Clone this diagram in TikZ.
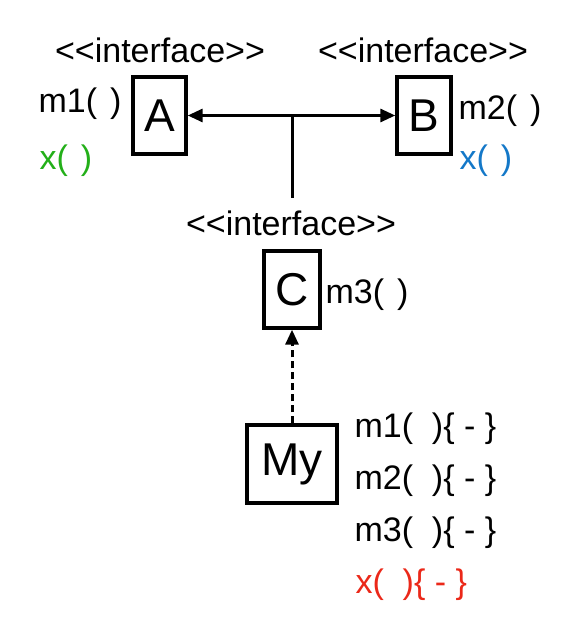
\documentclass[tikz,border=0pt]{standalone}
\usepackage{fontspec}
\setmainfont{Liberation Sans}
\usetikzlibrary{arrows.meta, positioning}

\definecolor{xgreen}{RGB}{35,175,25}
\definecolor{xblue}{RGB}{20,120,200}
\definecolor{xred}{RGB}{235,40,25}

\newcommand{\stereotext}{<\kern0pt<interface>\kern0pt>}
\newcommand{\argsgap}{\hspace{0.38em}}

\begin{document}
\begin{tikzpicture}[x=1pt, y=-1pt,
    classbox/.style={draw, line width=3.4pt, inner sep=0pt, font=\fontsize{46}{50}\selectfont},
    stereo/.style={anchor=base, font=\fontsize{34}{40}\selectfont},
    method/.style={anchor=base west, font=\fontsize{34}{40}\selectfont},
    link/.style={line width=3pt, -{Triangle[length=15pt, width=13pt]}}]

    \useasboundingbox (0,0) rectangle (580,644);

    % ==========================================
    % TOP ROW: interfaces A and B
    % ==========================================
    \node[classbox, minimum width=53pt, minimum height=77pt] (A) at (159.5,115.5) {A};
    \node[classbox, minimum width=54pt, minimum height=77pt] (B) at (424,115.5) {B};

    \node[stereo] (ifA) at (160,63) {\stereotext};
    \node[stereo] (ifB) at (423,63) {\stereotext};

    % Methods next to the boxes
    \node[method] (mA) at (35,113) {m1(\argsgap)};
    \node[method, text=xgreen] (xA) at (36,170) {x(\argsgap)};
    \node[method] (mB) at (455,120) {m2(\argsgap)};
    \node[method, text=xblue] (xB) at (456,170) {x(\argsgap)};

    % C extends A and B
    \coordinate (J) at (292,115.5);
    \coordinate (K) at (292,198);
    \draw[link] (J) -- (A);
    \draw[link] (J) -- (B);
    \draw[line width=3pt] (J) -- (K);

    % ==========================================
    % MIDDLE: interface C
    % ==========================================
    \node[classbox, minimum width=56pt, minimum height=77pt] (C) at (292,289.5) {C};
    \node[stereo] (ifC) at (291,235) {\stereotext};
    \node[method] (mC) at (322,303) {m3(\argsgap)};

    % ==========================================
    % BOTTOM: class My implements C
    % ==========================================
    \node[classbox, minimum width=90pt, minimum height=78pt] (My) at (292,464) {My};
    \draw[link, dash pattern=on 7pt off 4pt] (My) -- (C);

    \node[method] (my1) at (351,437) {m1(~~)\{ - \}};
    \node[method] (my2) at (351,489) {m2(~~)\{ - \}};
    \node[method] (my3) at (351,541) {m3(~~)\{ - \}};
    \node[method, text=xred] (myx) at (352,593) {x(~~)\{ - \}};

\end{tikzpicture}
\end{document}
